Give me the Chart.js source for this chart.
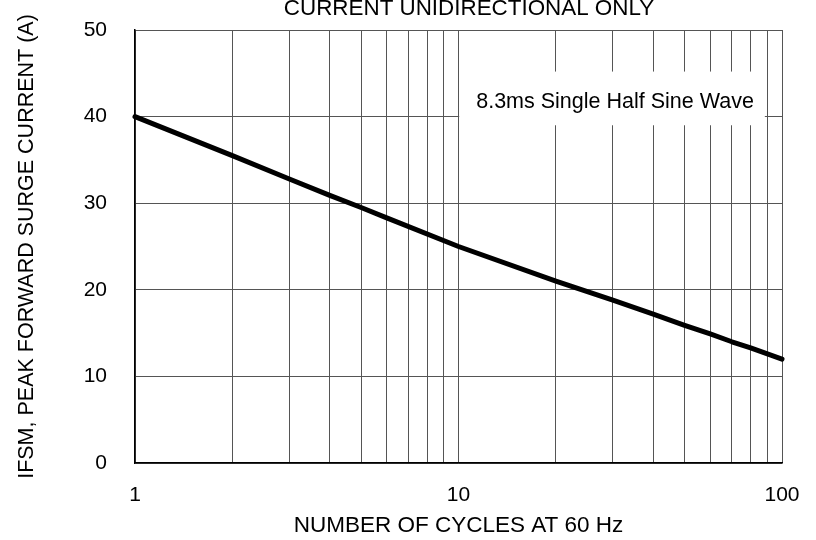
<!DOCTYPE html>
<html>
<head>
<meta charset="utf-8">
<script src="https://cdn.jsdelivr.net/npm/chart.js@4/dist/chart.umd.min.js"></script>
<style>
  html, body { margin: 0; padding: 0; background: #fff; }
  #wrap { width: 816px; height: 540px; }
</style>
</head>
<body>
<div id="wrap"><canvas id="surgeChart" width="816" height="540"></canvas></div>
<script>
const cycles = [1, 2, 3, 4, 5, 6, 10, 20, 30, 40, 50, 60, 70, 80, 100];
const surgeCurrent = [40, 35.5, 32.8, 30.9, 29.5, 28.3, 25, 21.0, 18.8, 17.2, 15.9, 14.9, 14.0, 13.3, 12.0];
const xGridValues = [1, 2, 3, 4, 5, 6, 7, 8, 9, 10, 20, 30, 40, 50, 60, 70, 80, 90, 100];
const xTickLabels = [1, 10, 100];
const yTicks = [0, 10, 20, 30, 40, 50];
const chartTitle = 'CURRENT UNIDIRECTIONAL ONLY';
const noteText = '8.3ms Single Half Sine Wave';

const fontFamily = '"Liberation Sans", Arial, sans-serif';

// white note box sitting on the grid, top right
const noteBox = {
    id: 'noteBox',
    beforeDatasetsDraw(chart) {
        const {ctx, scales: {x, y}} = chart;
        const left = x.getPixelForValue(10.05);
        const right = x.getPixelForValue(88.5);
        const top = y.getPixelForValue(45.2);
        const bottom = y.getPixelForValue(39.0);
        ctx.save();
        ctx.fillStyle = '#fff';
        ctx.fillRect(left, top, right - left, bottom - top);
        ctx.fillStyle = '#000';
        ctx.font = '21.5px ' + fontFamily;
        ctx.textAlign = 'center';
        ctx.textBaseline = 'middle';
        ctx.fillText(noteText, (left + right) / 2 + 3, top + 31);
        ctx.restore();
    }
};

// title is clipped at the top of the picture
const topTitle = {
    id: 'topTitle',
    afterDraw(chart) {
        const {ctx} = chart;
        ctx.save();
        ctx.fillStyle = '#000';
        ctx.font = '22.4px ' + fontFamily;
        ctx.textAlign = 'center';
        ctx.textBaseline = 'alphabetic';
        ctx.fillText(chartTitle, 469, 15);
        ctx.restore();
    }
};

const ctx = document.getElementById('surgeChart').getContext('2d');

new Chart(ctx, {
    type: 'line',
    data: {
        labels: cycles,
        datasets: [{
            data: cycles.map((c, i) => ({x: c, y: surgeCurrent[i]})),
            borderColor: '#000',
            borderWidth: 5,
            pointRadius: 0,
            tension: 0,
            borderCapStyle: 'round',
            borderJoinStyle: 'round',
            clip: false
        }]
    },
    options: {
        responsive: false,
        animation: false,
        layout: {
            padding: {left: 0, top: 30, right: 34, bottom: 0}
        },
        plugins: {
            legend: {display: false},
            tooltip: {enabled: false}
        },
        scales: {
            x: {
                type: 'logarithmic',
                min: 1,
                max: 100,
                afterBuildTicks: (scale) => {
                    scale.ticks = xGridValues.map(v => ({value: v}));
                },
                afterFit: (scale) => {
                    scale.height = 77;
                    scale.paddingLeft = 0;
                    scale.paddingRight = 0;
                },
                ticks: {
                    autoSkip: false,
                    maxRotation: 0,
                    padding: 20,
                    color: '#000',
                    font: {family: fontFamily, size: 21},
                    callback: (value) => xTickLabels.includes(value) ? String(value) : ''
                },
                grid: {
                    color: '#555',
                    lineWidth: 1,
                    drawTicks: false
                },
                border: {color: '#000', width: 1.5},
                title: {
                    display: true,
                    text: 'NUMBER OF CYCLES AT 60 Hz',
                    color: '#000',
                    font: {family: fontFamily, size: 22.5},
                    padding: {top: 0, bottom: 1}
                }
            },
            y: {
                min: 0,
                max: 50,
                afterBuildTicks: (scale) => {
                    scale.ticks = yTicks.map(v => ({value: v}));
                },
                afterFit: (scale) => {
                    scale.width = 135;
                    scale.paddingTop = 0;
                    scale.paddingBottom = 0;
                },
                ticks: {
                    padding: 28,
                    color: '#000',
                    font: {family: fontFamily, size: 21}
                },
                grid: {
                    color: '#555',
                    lineWidth: 1,
                    drawTicks: false
                },
                border: {color: '#000', width: 1.5},
                title: {
                    display: true,
                    text: 'IFSM, PEAK FORWARD SURGE CURRENT (A)',
                    color: '#000',
                    font: {family: fontFamily, size: 21.5},
                    padding: {top: 14, bottom: 0}
                }
            }
        }
    },
    plugins: [noteBox, topTitle]
});
</script>
</body>
</html>
